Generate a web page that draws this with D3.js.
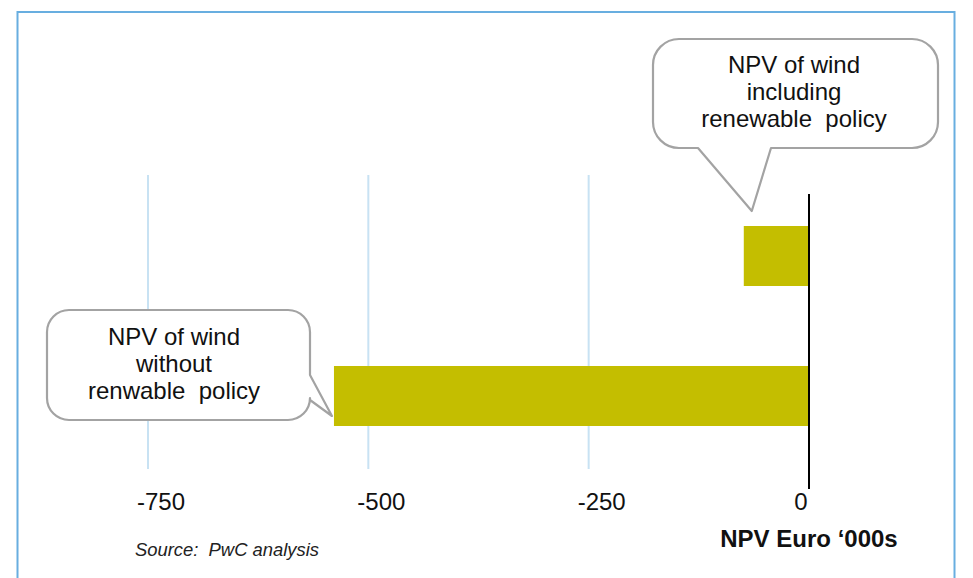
<!DOCTYPE html>
<html>
<head>
<meta charset="utf-8">
<script src="https://cdn.jsdelivr.net/npm/d3@7"></script>
<style>
  html, body { margin: 0; padding: 0; background: #ffffff; }
  svg { display: block; }
  text { font-family: "Liberation Sans", Arial, Helvetica, sans-serif; }
</style>
</head>
<body>
<svg id="chart" width="973" height="578"></svg>
<script>
// ---- data ----
const categories = ["With renewable policy", "Without renewable policy"];
const values = [-74, -539];                 // NPV, Euro '000s
const tickValues = [-750, -500, -250, 0];
const tickLabels = ["-750", "-500", "-250", "0"];
const axisTitle = "NPV Euro \u2018000s";
const sourceNote = "Source:  PwC analysis";
const calloutTop = ["NPV of wind", "including", "renewable  policy"];
const calloutBottom = ["NPV of wind", "without", "renwable  policy"];

// ---- layout ----
const W = 973, H = 578;
const svg = d3.select("#chart");
const barColor = "#c4be00";
const gridColor = "#c8e2f3";
const calloutStroke = "#a3a3a3";

// frame
svg.append("rect")
  .attr("x", 17.5).attr("y", 12)
  .attr("width", 937).attr("height", 620)
  .attr("fill", "none")
  .attr("stroke", "#68aee0")
  .attr("stroke-width", 2);

const x = d3.scaleLinear().domain([-750, 0]).range([148, 809]);
const y = d3.scaleBand().domain(categories)
  .range([156, 496]).paddingInner(0.5714).paddingOuter(0.5);

// gridlines
svg.append("g").selectAll("line")
  .data(tickValues.filter(v => v !== 0))
  .join("line")
  .attr("x1", d => x(d)).attr("x2", d => x(d))
  .attr("y1", 175).attr("y2", 469)
  .attr("stroke", gridColor)
  .attr("stroke-width", 2);

// bars
svg.append("g").selectAll("rect")
  .data(values)
  .join("rect")
  .attr("x", d => x(Math.min(0, d)))
  .attr("width", d => Math.abs(x(d) - x(0)))
  .attr("y", (d, i) => y(categories[i]))
  .attr("height", y.bandwidth())
  .attr("fill", barColor);

// zero axis line
svg.append("line")
  .attr("x1", x(0)).attr("x2", x(0))
  .attr("y1", 194).attr("y2", 489)
  .attr("stroke", "#000")
  .attr("stroke-width", 2);

// tick labels
svg.append("g").selectAll("text")
  .data(tickValues)
  .join("text")
  .attr("x", d => x(d))
  .attr("dx", d => d === 0 ? -8 : 13)
  .attr("y", 510)
  .attr("text-anchor", "middle")
  .attr("font-size", 24)
  .attr("fill", "#111")
  .text((d, i) => tickLabels[i]);

// axis title
svg.append("text")
  .attr("x", x(0)).attr("y", 547)
  .attr("text-anchor", "middle")
  .attr("font-size", 24)
  .attr("font-weight", "bold")
  .attr("fill", "#111")
  .style("white-space", "pre")
  .text(axisTitle);

// source
svg.append("text")
  .attr("x", 135).attr("y", 556)
  .attr("font-size", 18.4)
  .attr("font-style", "italic")
  .attr("fill", "#222")
  .style("white-space", "pre")
  .text(sourceNote);

// ---- callouts ----
function bubbleBottom(x0, y0, x1, y1, r, b0, b1, tip) {
  const p = d3.path();
  p.moveTo(x0 + r, y0);
  p.lineTo(x1 - r, y0);
  p.arcTo(x1, y0, x1, y0 + r, r);
  p.lineTo(x1, y1 - r);
  p.arcTo(x1, y1, x1 - r, y1, r);
  p.lineTo(b1, y1);
  p.lineTo(tip[0], tip[1]);
  p.lineTo(b0, y1);
  p.lineTo(x0 + r, y1);
  p.arcTo(x0, y1, x0, y1 - r, r);
  p.lineTo(x0, y0 + r);
  p.arcTo(x0, y0, x0 + r, y0, r);
  p.closePath();
  return p.toString();
}
function bubbleRight(x0, y0, x1, y1, r, b0, b1, tip) {
  const p = d3.path();
  p.moveTo(x0 + r, y0);
  p.lineTo(x1 - r, y0);
  p.arcTo(x1, y0, x1, y0 + r, r);
  p.lineTo(x1, b0);
  p.lineTo(tip[0], tip[1]);
  p.lineTo(x1, b1);
  p.arcTo(x1, y1, x1 - r, y1, r);
  p.lineTo(x0 + r, y1);
  p.arcTo(x0, y1, x0, y1 - r, r);
  p.lineTo(x0, y0 + r);
  p.arcTo(x0, y0, x0 + r, y0, r);
  p.closePath();
  return p.toString();
}

const tipTop = [x(values[0]) + 8, y(categories[0]) - 15];
const tipBottom = [x(values[1]) - 2, y(categories[1]) + y.bandwidth() - 10];

svg.append("path")
  .attr("d", bubbleBottom(653, 39, 938, 148, 26, 698, 771, tipTop))
  .attr("fill", "#fff")
  .attr("stroke", calloutStroke)
  .attr("stroke-width", 2.2)
  .attr("stroke-linejoin", "round");

svg.append("path")
  .attr("d", bubbleRight(47, 310, 310, 420, 22, 375, 400, tipBottom))
  .attr("fill", "#fff")
  .attr("stroke", calloutStroke)
  .attr("stroke-width", 2.2)
  .attr("stroke-linejoin", "round");

function calloutText(lines, cx, firstBaseline, step) {
  svg.append("g").selectAll("text")
    .data(lines)
    .join("text")
    .attr("x", cx)
    .attr("y", (d, i) => firstBaseline + i * step)
    .attr("text-anchor", "middle")
    .attr("font-size", 24)
    .attr("fill", "#111")
    .style("white-space", "pre")
    .text(d => d);
}
calloutText(calloutTop, 794, 73, 27);
calloutText(calloutBottom, 174, 345, 27);
</script>
</body>
</html>
